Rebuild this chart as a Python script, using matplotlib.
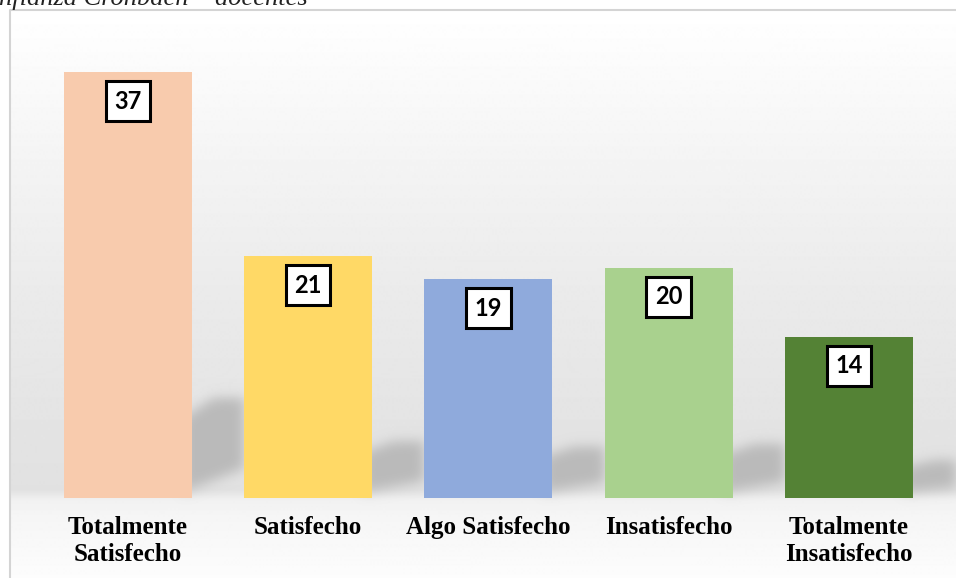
from matplotlib import pyplot as plt
from matplotlib.patches import Polygon
import numpy as np

# chart data
categories = ["Totalmente\nSatisfecho", "Satisfecho", "Algo Satisfecho",
              "Insatisfecho", "Totalmente\nInsatisfecho"]
values = [37, 21, 19, 20, 14]
bar_colors = ["#F8CBAD", "#FFD966", "#8FAADC", "#A9D18E", "#548235"]
title_text = "nfianza Cronbach \u2013 docentes"

W, H = 956, 578


def blur_shadow(img, dpi, sigma=6, gray=0.73):
    """Gaussian blur of the alpha channel, used as agg_filter for shadows."""
    pad = 3 * sigma
    h, w, _ = img.shape
    alpha = np.zeros((h + 2 * pad, w + 2 * pad))
    alpha[pad:pad + h, pad:pad + w] = img[:, :, 3]
    x = np.arange(-pad, pad + 1)
    k = np.exp(-0.5 * (x / sigma) ** 2)
    k /= k.sum()
    alpha = np.apply_along_axis(lambda r: np.convolve(r, k, mode="same"), 0, alpha)
    alpha = np.apply_along_axis(lambda r: np.convolve(r, k, mode="same"), 1, alpha)
    out = np.empty((h + 2 * pad, w + 2 * pad, 4))
    out[:, :, :3] = gray
    out[:, :, 3] = alpha
    return out, -pad, -pad


def draw_background(fig):
    """Gray gradient 'wall' and lighter 'floor' inside a thin border."""
    bg = fig.add_axes([0, 0, 1, 1], zorder=0)
    bg.set_xlim(0, W)
    bg.set_ylim(H, 0)
    bg.axis("off")
    ys = np.arange(10, H + 1)
    anchor_y = [10, 100, 200, 300, 400, 490, 500, 515, 578]
    anchor_v = [1.0, 0.975, 0.945, 0.918, 0.898, 0.882, 0.945, 0.962, 0.99]
    shade = np.interp(ys, anchor_y, anchor_v)
    grad = np.repeat(shade[:, None], 2, axis=1)
    bg.imshow(grad, cmap="gray", vmin=0, vmax=1, aspect="auto",
              extent=[10, W, H, 10], interpolation="bilinear")
    bg.plot([10, 10, W], [H, 10, 10], color="#d4d4d4", lw=1.5)
    bg.text(-1, 5, title_text, fontsize=19, style="italic",
            family="Liberation Serif", va="baseline", ha="left", color="#222222")


def draw_bars(fig):
    ax = fig.add_axes([10 / W, (H - 498) / H, 946 / W, 488 / H], zorder=1)
    ax.set_facecolor("none")
    ax.set_xlim(-0.6546, 4.594)
    ax.set_ylim(0, 42.4)
    width = 0.71
    x = np.arange(len(values))

    # perspective shadows behind the bars
    for i, v in enumerate(values):
        r = i + width / 2
        ts = 0.235 * v
        shadow = Polygon([(r - 0.05, 0.5), (r - 0.05, ts * 0.8), (r + 0.12, ts),
                          (r + 0.29, ts), (r + 0.29, ts * 0.3)],
                         closed=True, fc="k", ec="none", zorder=1)
        shadow.set_agg_filter(blur_shadow)
        ax.add_patch(shadow)

    ax.bar(x, values, width=width, color=bar_colors, zorder=2)

    for i, v in enumerate(values):
        ax.annotate(str(v), (i, v), xytext=(0, -29), textcoords="offset pixels",
                    ha="center", va="center", fontsize=17, fontweight="bold",
                    family="Lato", zorder=4,
                    bbox=dict(boxstyle="square,pad=0.36", fc="white", ec="black", lw=2.2))

    ax.set_xticks(x)
    ax.set_xticklabels(categories, family="Liberation Serif", fontweight="bold",
                       fontsize=18, linespacing=1.2, va="top")
    ax.tick_params(axis="x", length=0, pad=13)
    ax.set_yticks([])
    for s in ax.spines.values():
        s.set_visible(False)
    return ax


if __name__ == "__main__":
    fig = plt.figure(figsize=(W / 100, H / 100), dpi=100)
    draw_background(fig)
    draw_bars(fig)
    fig.savefig("out.png", dpi=100)
